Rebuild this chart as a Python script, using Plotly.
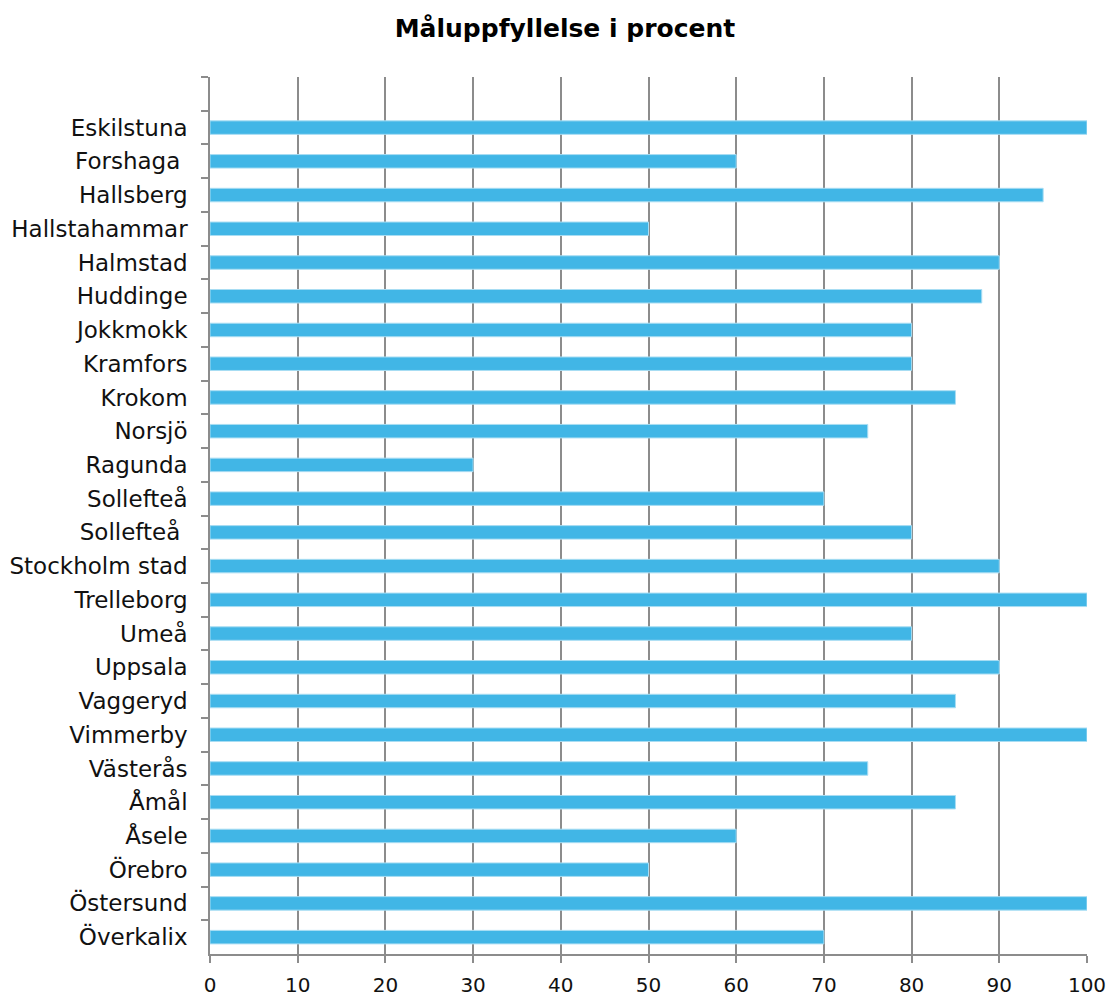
import plotly.graph_objects as go

categories = [" ", "Eskilstuna", "Forshaga ", "Hallsberg", "Hallstahammar", "Halmstad", "Huddinge",
              "Jokkmokk", "Kramfors", "Krokom", "Norsjö", "Ragunda", "Sollefteå", "Sollefteå ",
              "Stockholm stad", "Trelleborg", "Umeå", "Uppsala", "Vaggeryd", "Vimmerby",
              "Västerås", "Åmål", "Åsele", "Örebro", "Östersund", "Överkalix"]
values = [None, 100, 60, 95, 50, 90, 88, 80, 80, 85, 75, 30, 70, 80, 90, 100, 80, 90, 85, 100,
          75, 85, 60, 50, 100, 70]
x_ticks = [0, 10, 20, 30, 40, 50, 60, 70, 80, 90, 100]

FONT = "DejaVu Sans"
fig = go.Figure(go.Bar(
    x=values, y=categories, orientation="h",
    marker=dict(color="#41B6E6", line=dict(color="#A8DDF3", width=1)),
    width=0.4,
))
fig.update_layout(
    width=1110, height=996,
    margin=dict(l=210, r=23, t=77, b=42),
    paper_bgcolor="white", plot_bgcolor="white",
    title=dict(text="<b>Måluppfyllelse i procent</b>", x=0.509, xanchor="center",
               y=0.972, yanchor="middle", font=dict(family=FONT, size=25, color="black")),
    font=dict(family=FONT, size=20, color="#111111"),
    showlegend=False,
    bargap=0.6,
)
fig.update_xaxes(range=[0, 100], tickvals=x_ticks, showgrid=True, gridcolor="#8C8C8C",
                 gridwidth=1.6, zeroline=False, showline=True, linecolor="#8C8C8C", linewidth=1.6,
                 ticks="outside", ticklen=7, tickcolor="#8C8C8C", tickwidth=1.6,
                 automargin=False, ticklabelstandoff=5,
                 tickfont=dict(family=FONT, size=20, color="#111111"))
fig.update_yaxes(type="category", categoryorder="array", categoryarray=categories,
                 autorange="reversed", showgrid=False, showline=True, linecolor="#8C8C8C",
                 linewidth=1.6, ticks="outside", ticklen=7, tickcolor="#8C8C8C", tickwidth=1.6,
                 tickson="boundaries", ticklabelstandoff=16, automargin=False,
                 tickfont=dict(family=FONT, size=23, color="#111111"))
fig.write_html("out.html", config={"displayModeBar": False},
               post_script="document.body.style.margin='0px';")
